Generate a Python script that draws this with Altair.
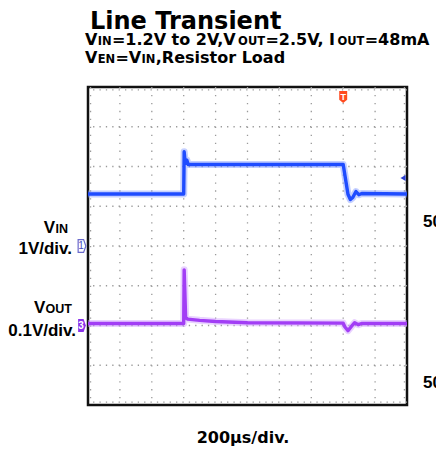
import altair as alt
import pandas as pd

# ---------------- data ----------------
# time in microseconds (200 us/div, 10 div), voltages in volts
T_VIN = [0, 600, 603, 607, 614, 620, 628, 1600, 1612, 1630, 1645, 1660, 1680, 1698, 1716, 2000]
V_VIN = [1.31, 1.31, 2.37, 2.20, 2.08, 2.16, 2.05, 2.05, 1.75, 1.30, 1.17, 1.22, 1.37, 1.29, 1.32, 1.31]

T_VOUT = [0, 600, 603, 606, 612, 625, 700, 800, 1000, 1600, 1610, 1630, 1650, 1672, 1695, 1715, 2000]
V_VOUT = [2.505, 2.505, 2.640, 2.600, 2.520, 2.516, 2.513, 2.510, 2.507, 2.506, 2.497, 2.487,
          2.497, 2.507, 2.502, 2.505, 2.505]

VIN_GROUND_DIV = 4      # channel 1 marker
VIN_PER_DIV = 1.0
VOUT_GROUND_DIV = 2     # channel 3 marker
VOUT_REF = 2.5
VOUT_PER_DIV = 0.1

GRID_T = [200, 400, 600, 800, 1000, 1200, 1400, 1600, 1800]
GRID_DIV = [1, 2, 3, 4, 5, 6, 7]
EDGE_T = [16, 1984]
EDGE_DIV = [0.07, 7.93]

TRIGGER_T = 1600
TRIGGER_LEVEL_V = 1.71
TRIGGER_LEVEL_T = 1975

CHANNELS = ["1", "3"]
CHANNEL_DIV = [VIN_GROUND_DIV, VOUT_GROUND_DIV]

TITLE = "Line Transient"
SUB1 = [("V", 0), ("IN", 1), ("=1.2V to 2V,V", 0), ("OUT", 1), ("=2.5V, I", 0), ("OUT", 1), ("=48mA", 0)]
SUB2 = [("V", 0), ("EN", 1), ("=V", 0), ("IN", 1), (",Resistor Load", 0)]
LBL_VIN = [("V", 0), ("IN", 1)]
LBL_VIN_DIV = "1V/div."
LBL_VOUT = [("V", 0), ("OUT", 1)]
LBL_VOUT_DIV = "0.1V/div."
RIGHT_LABELS = ["50m", "50"]
X_LABEL = "200μs/div."

# ---------------- layout ----------------
PAD_L, PAD_T, W, H, PAD_R, PAD_B = 80, 79, 319, 318, 29, 42

BLUE = "#1f4cff"
BLUE_HALO = "#7d95ff"
PURPLE = "#a23ef5"
PURPLE_HALO = "#cf9cff"
GRID = "#9a9a9a"

DEJAVU_B = {" ": .348, "0": .696, "1": .696, "2": .696, "4": .696, "5": .696, "8": .696,
            ".": .381, ",": .381, "=": .838, "A": .774, "E": .683, "I": .372, "L": .637,
            "N": .837, "O": .850, "R": .770, "T": .682, "U": .812, "V": .774, "a": .675,
            "d": .716, "e": .678, "i": .343, "m": 1.042, "o": .687, "r": .493, "s": .595,
            "t": .478}
ARIAL_B = {"V": .667, "I": .278, "N": .722, "O": .778, "U": .722, "T": .611}

ONE = pd.DataFrame({"k": [0]})

X = alt.X("t:Q", scale=alt.Scale(domain=[0, 2000], nice=False, zero=False), axis=None)
Y = alt.Y("d:Q", scale=alt.Scale(domain=[0, 8], nice=False, zero=False), axis=None)


def text_at(txt, x, y, size, font, align="left", color="black"):
    return alt.Chart(ONE).mark_text(
        text=txt, font=font, fontSize=size, fontWeight="bold", align=align,
        baseline="alphabetic", color=color
    ).encode(x=alt.value(x - PAD_L), y=alt.value(y - PAD_T))


def smallcaps_left(segs, x0, y, big, small, font, widths, gap=0.3):
    out, x = [], x0
    for txt, s in segs:
        size = small if s else big
        out.append(text_at(txt, x, y, size, font))
        x += sum(widths[c] for c in txt) * size + gap
    return out


def smallcaps_right(segs, x_right, y, big, small, font, widths, gap=0.3):
    out, x = [], x_right
    for txt, s in reversed(segs):
        size = small if s else big
        out.append(text_at(txt, x, y, size, font, align="right"))
        x -= sum(widths[c] for c in txt) * size + gap
    return out


# ---------------- grid ----------------
vgrid = alt.Chart(pd.DataFrame({"t": GRID_T + EDGE_T})).mark_rule(
    color=GRID, strokeWidth=1.3, strokeDash=[1.3, 6.65]).encode(x=X)
hgrid = alt.Chart(pd.DataFrame({"d": GRID_DIV + EDGE_DIV})).mark_rule(
    color=GRID, strokeWidth=1.3, strokeDash=[1.3, 5.08]).encode(y=Y)

# ---------------- traces ----------------
vin = pd.DataFrame({"t": T_VIN, "v": V_VIN})
vout = pd.DataFrame({"t": T_VOUT, "v": V_VOUT})
vin_calc = f"{VIN_GROUND_DIV} + datum.v / {VIN_PER_DIV}"
vout_calc = f"{VOUT_GROUND_DIV} + (datum.v - {VOUT_REF}) / {VOUT_PER_DIV}"

vin_halo = alt.Chart(vin).transform_calculate(d=vin_calc).mark_line(
    color=BLUE_HALO, strokeWidth=7, opacity=0.45, strokeJoin="round").encode(x=X, y=Y)
vin_line = alt.Chart(vin).transform_calculate(d=vin_calc).mark_line(
    color=BLUE, strokeWidth=3.4, strokeJoin="round").encode(x=X, y=Y)
vout_halo = alt.Chart(vout).transform_calculate(d=vout_calc).mark_line(
    color=PURPLE_HALO, strokeWidth=7, opacity=0.45, strokeJoin="round").encode(x=X, y=Y)
vout_line = alt.Chart(vout).transform_calculate(d=vout_calc).mark_line(
    color=PURPLE, strokeWidth=3.4, strokeJoin="round").encode(x=X, y=Y)

# ---------------- scope markers ----------------
TAG = "M-0.6,-1 H0.25 L0.6,0 L0.25,1 H-0.6 Z"
ch_df = pd.DataFrame({"ch": CHANNELS, "d": CHANNEL_DIV})
ch1_box = alt.Chart(ch_df).transform_filter("datum.ch == '1'").mark_point(
    shape=TAG, size=165, filled=True, fill="white", stroke="#6a6acc", strokeWidth=1.2, opacity=1
).encode(x=alt.value(-6), y=Y)
ch3_box = alt.Chart(ch_df).transform_filter("datum.ch == '3'").mark_point(
    shape=TAG, size=165, filled=True, fill="#8a32ea", opacity=1
).encode(x=alt.value(-6), y=Y)
ch1_txt = alt.Chart(ch_df).transform_filter("datum.ch == '1'").mark_text(
    fontSize=10, font="Liberation Sans", color="#4a4ac0", baseline="middle"
).encode(x=alt.value(-7), y=Y, text="ch:N")
ch3_txt = alt.Chart(ch_df).transform_filter("datum.ch == '3'").mark_text(
    fontSize=10, font="Liberation Sans", fontWeight="bold", color="white", baseline="middle"
).encode(x=alt.value(-7), y=Y, text="ch:N")

SHIELD = "M-0.65,-1 H0.65 V0.45 L0,1 L-0.65,0.45 Z"
trig_df = pd.DataFrame({"t": [TRIGGER_T], "lab": ["T"]})
trig_mark = alt.Chart(trig_df).mark_point(
    shape=SHIELD, size=150, filled=True, color="#ff4b1f", opacity=1
).encode(x=X, y=alt.value(10))
trig_txt = alt.Chart(trig_df).mark_text(
    fontSize=9, fontWeight="bold", font="Liberation Sans", color="white", baseline="middle"
).encode(x=X, y=alt.value(9.5), text="lab:N")
level_df = pd.DataFrame({"t": [TRIGGER_LEVEL_T], "v": [TRIGGER_LEVEL_V]})
level_mark = alt.Chart(level_df).transform_calculate(d=vin_calc).mark_point(
    shape="triangle-left", size=35, filled=True, color="#2a3fd0", opacity=1
).encode(x=X, y=Y)

# ---------------- texts ----------------
texts = [text_at(TITLE, 82, 21, 24, "DejaVu Sans")]
texts += smallcaps_left(SUB1, 77, 37, 16, 11.5, "DejaVu Sans", DEJAVU_B)
texts += smallcaps_left(SUB2, 77, 55, 16, 11.5, "DejaVu Sans", DEJAVU_B)
texts += smallcaps_right(LBL_VIN, 60, 225, 17, 12.5, "Liberation Sans", ARIAL_B)
texts.append(text_at(LBL_VIN_DIV, 64, 246, 17, "Liberation Sans", align="right"))
texts += smallcaps_right(LBL_VOUT, 64, 305, 17, 12.5, "Liberation Sans", ARIAL_B)
texts.append(text_at(LBL_VOUT_DIV, 68, 328, 17, "Liberation Sans", align="right"))
texts.append(text_at(RIGHT_LABELS[0], 415, 219, 17, "Liberation Sans"))
texts.append(text_at(RIGHT_LABELS[1], 415, 380, 17, "Liberation Sans"))
texts.append(text_at(X_LABEL, 235, 435, 16, "DejaVu Sans", align="center"))

chart = alt.layer(
    vgrid, hgrid, vin_halo, vout_halo, vin_line, vout_line,
    ch1_box, ch3_box, ch1_txt, ch3_txt, trig_mark, trig_txt, level_mark,
    *texts
).properties(
    width=W, height=H,
    padding={"left": PAD_L, "top": PAD_T, "right": PAD_R, "bottom": PAD_B},
    autosize=alt.AutoSizeParams(type="none"),
    background="white",
).configure_view(stroke="#111111", strokeWidth=2.5)

chart.save("out.html", embed_options={"renderer": "svg", "actions": False})
